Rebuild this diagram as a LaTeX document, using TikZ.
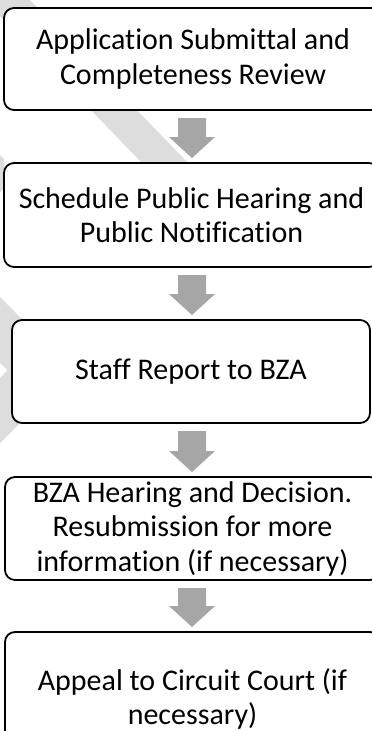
\documentclass[tikz,border=0pt]{standalone}
\usepackage{fontspec}
\setmainfont[Ligatures={NoCommon,NoContextual}]{Carlito}
\usetikzlibrary{calc}
\definecolor{wm}{HTML}{DDDDDD}
\definecolor{arrowgrey}{HTML}{A6A6A6}
\newcommand\grarrow[2]{%
  \fill[arrowgrey] ($(#1.south -| ax)+(-14,8)$) -- ($(#1.south -| ax)+(14,8)$)
    -- ($(#2.north -| ax)+(14,-26)$) -- ($(#2.north -| ax)+(23,-26)$)
    -- ($(#2.north -| ax)+(0,-5)$) -- ($(#2.north -| ax)+(-23,-26)$)
    -- ($(#2.north -| ax)+(-14,-26)$) -- cycle;}
\begin{document}
\begin{tikzpicture}[x=1pt,y=-1pt,
  box/.style={draw=black, line width=1.8pt, rounded corners=10pt, fill=white,
    align=center, inner sep=0pt, outer sep=0pt,
    font=\fontsize{30}{34.5}\selectfont}]
\clip (0,0) rectangle (372,731);
\fill[white] (0,0) rectangle (372,731);
% watermark
\fill[wm] (-16,0) -- (30,0) -- (224,200) -- (178,200) -- cycle;
\fill[wm] (0,297) -- (73,370) -- (0,443) -- (0,378) -- (7.5,370) -- (0,363) -- cycle;
\fill[wm] (0,155) -- (4,159) -- (4,188) -- (0,192) -- cycle;
% boxes
\coordinate (ax) at (192,0);
\node[box, minimum width=378pt, minimum height=102pt] (b1) at (193,59)
  {Application Submittal and\\Completeness Review};
\node[box, minimum width=375pt, minimum height=104pt] (b2) at (191.5,215)
  {Schedule Public Hearing and\\Public Notification};
\node[box, minimum width=358pt, minimum height=103pt] (b3) at (191,371.5)
  {Staff Report to BZA};
\node[box, minimum width=375pt, minimum height=103pt] (b4) at (192.5,528.5)
  {BZA Hearing and Decision.\\Resubmission for more\\information (if necessary)};
\node[box, minimum width=375pt, minimum height=134pt] (b5) at (192.5,699)
  {Appeal to Circuit Court (if\\necessary)};
% arrows
\grarrow{b1}{b2}
\grarrow{b2}{b3}
\grarrow{b3}{b4}
\grarrow{b4}{b5}
\end{tikzpicture}
\end{document}
